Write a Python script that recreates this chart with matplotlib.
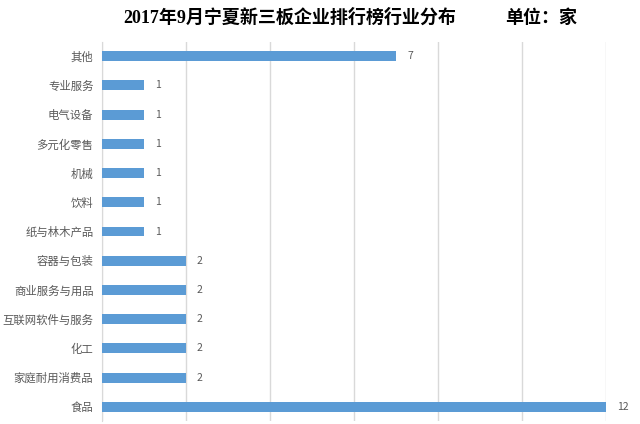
import matplotlib.pyplot as plt
import numpy as np

plt.rcParams['font.family'] = ['Noto Sans CJK SC', 'DejaVu Sans']

categories = ['其他', '专业服务', '电气设备', '多元化零售', '机械', '饮料', '纸与林木产品',
              '容器与包装', '商业服务与用品', '互联网软件与服务', '化工', '家庭耐用消费品', '食品']
counts = [7, 1, 1, 1, 1, 1, 1, 2, 2, 2, 2, 2, 12]

fig = plt.figure(figsize=(6.4, 4.24), dpi=100)
ax = fig.add_axes([0.159, 0.006, 0.788, 0.896])

y = np.arange(len(categories))
bars = ax.barh(y, counts, height=0.34, color='#5b9bd5', zorder=3)
ax.set_ylim(len(categories) - 0.5, -0.5)
ax.set_xlim(0, 12)
ax.set_yticks(y)
ax.set_yticklabels(categories, fontsize=8.2, color='#595959')
ax.set_xticks(np.arange(0, 13, 2))
ax.xaxis.grid(True, color='#d9d9d9', linewidth=1, zorder=0)
ax.tick_params(axis='x', bottom=False, labelbottom=False)
ax.tick_params(axis='y', length=0, pad=6)

for s in ['top', 'right', 'bottom']:
    ax.spines[s].set_visible(False)
ax.spines['left'].set_color('#d9d9d9')

for b, v in zip(bars, counts):
    ax.annotate(str(v), xy=(b.get_width(), b.get_y() + b.get_height() / 2),
                xytext=(8, 0), textcoords='offset points', va='center', ha='left',
                fontsize=7.5, color='#595959', annotation_clip=False)

fig.text(0.452, 0.958, '2017年9月宁夏新三板企业排行榜行业分布', ha='center', va='center',
         fontsize=13, fontweight='bold', family=['Liberation Serif', 'Noto Sans CJK SC'])
fig.text(0.845, 0.958, '单位：家', ha='center', va='center',
         fontsize=13, fontweight='bold', family=['Liberation Serif', 'Noto Sans CJK SC'])

fig.savefig('out.png', dpi=100)
